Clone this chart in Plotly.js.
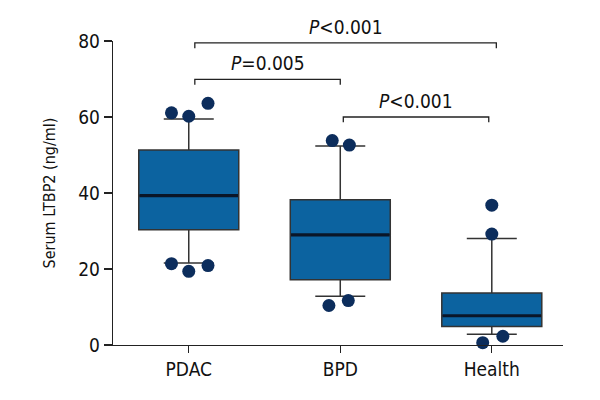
<!DOCTYPE html>
<html><head><meta charset="utf-8">
<script src="https://cdn.plot.ly/plotly-3.0.1.min.js"></script>
<style>html,body{margin:0;padding:0;background:#fff}#c{width:600px;height:400px}</style>
</head><body><div id="c"></div>
<script>
const categories = ['PDAC', 'BPD', 'Health'];
const q1 = [30.3, 17.2, 4.9];
const median = [39.3, 29.0, 7.7];
const q3 = [51.3, 38.2, 13.7];
const lowerWhisker = [21.6, 12.8, 2.8];
const upperWhisker = [59.5, 52.4, 28.0];
// individual points: group index, horizontal spread within group, value
const pointGroup = [0, 0, 0, 0, 0, 0, 1, 1, 1, 1, 2, 2, 2, 2];
const pointSpread = [-0.114, 0, 0.127, -0.114, 0, 0.127, -0.053, 0.06, -0.075, 0.053, 0, 0, 0.073, -0.06];
const pointValue = [61.1, 60.2, 63.6, 21.4, 19.4, 20.9, 53.8, 52.6, 10.4, 11.7, 36.8, 29.2, 2.3, 0.6];
// significance brackets
const bracketFrom = [0.04, 0.04, 1.02];
const bracketTo = [2.03, 1.0, 1.98];
const bracketY = [79.5, 69.9, 60.0];
const bracketLabel = ['<i>P</i>&lt;0.001', '<i>P</i>=0.005', '<i>P</i>&lt;0.001'];

const FONT = '"DejaVu Sans Condensed", "Liberation Sans Narrow", sans-serif';
const BOXW = 0.66;

const traces = [];
traces.push({
  type: 'box',
  x: categories.map((_, i) => i),
  q1: q1, median: median, q3: q3,
  lowerfence: lowerWhisker, upperfence: upperWhisker,
  width: BOXW,
  whiskerwidth: 0.5,
  fillcolor: '#0c63a0',
  line: {color: '#333333', width: 1.5},
  boxpoints: false,
  hoverinfo: 'skip',
  showlegend: false
});
// thick median lines
categories.forEach((c, i) => {
  traces.push({
    type: 'scatter', mode: 'lines',
    x: [i - BOXW / 2 + 0.005, i + BOXW / 2 - 0.005], y: [median[i], median[i]],
    line: {color: '#0a1628', width: 3.2},
    hoverinfo: 'skip', showlegend: false
  });
});
traces.push({
  type: 'scatter', mode: 'markers',
  x: pointGroup.map((g, k) => g + pointSpread[k]),
  y: pointValue,
  marker: {size: 13, color: '#0c2d5c'},
  cliponaxis: false,
  hoverinfo: 'skip', showlegend: false
});

const shapes = [];
const annotations = [];
bracketY.forEach((y, k) => {
  const drop = 1.4;
  shapes.push({
    type: 'path', xref: 'x', yref: 'y',
    path: `M ${bracketFrom[k]} ${y - drop} L ${bracketFrom[k]} ${y} L ${bracketTo[k]} ${y} L ${bracketTo[k]} ${y - drop}`,
    line: {color: '#222', width: 1.3}
  });
  annotations.push({
    xref: 'x', yref: 'y', x: (bracketFrom[k] + bracketTo[k]) / 2, y: y,
    yshift: 3,
    text: bracketLabel[k], showarrow: false, yanchor: 'bottom',
    font: {family: FONT, size: 19, color: '#111'}
  });
});

const layout = {
  width: 600, height: 400,
  margin: {l: 113, r: 37, t: 41, b: 54.5},
  paper_bgcolor: '#fff', plot_bgcolor: '#fff',
  font: {family: FONT, size: 19, color: '#111'},
  xaxis: {
    range: [-0.5, 2.47],
    tickvals: categories.map((_, i) => i), ticktext: categories,
    showgrid: false, zeroline: false,
    showline: true, linecolor: '#222', linewidth: 1.3,
    ticks: 'outside', ticklen: 7, tickcolor: '#222', tickwidth: 1.3,
    tickfont: {family: FONT, size: 19, color: '#111'}
  },
  yaxis: {
    range: [0, 80], tickvals: [0, 20, 40, 60, 80],
    showgrid: false, zeroline: false,
    showline: true, linecolor: '#222', linewidth: 1.3,
    ticks: 'outside', ticklen: 8, tickcolor: '#222', tickwidth: 1.3,
    tickfont: {family: FONT, size: 19, color: '#111'},
    title: {text: 'Serum LTBP2 (ng/ml)', font: {family: FONT, size: 16, color: '#111'}, standoff: 18}
  },
  shapes: shapes,
  annotations: annotations
};
Plotly.newPlot('c', traces, layout, {displayModeBar: false, staticPlot: true});
</script></body></html>
